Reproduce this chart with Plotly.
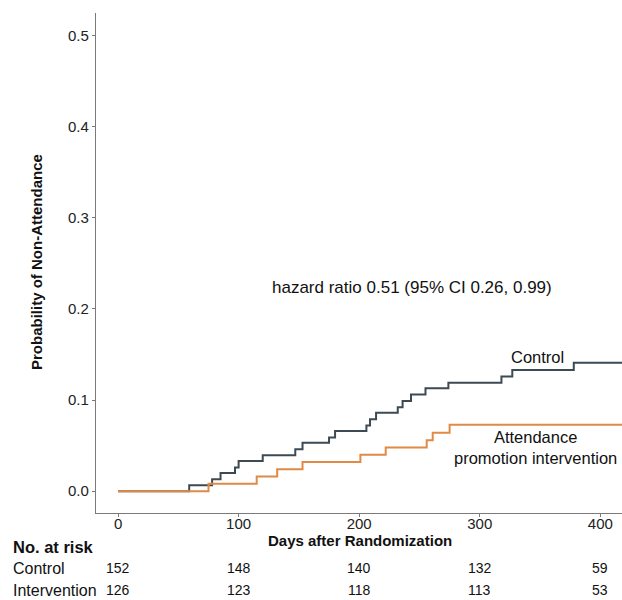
import plotly.graph_objects as go

# Kaplan-Meier style cumulative non-attendance
control_days = [0, 59, 78, 85, 97, 100, 120, 147, 153, 175, 180, 206, 209, 214, 232, 236, 243, 255, 274, 318, 327, 378, 420]
control_prob = [0.0, 0.0066, 0.013, 0.020, 0.026, 0.033, 0.0395, 0.046, 0.053, 0.059, 0.066, 0.072, 0.079, 0.086, 0.092, 0.099, 0.106, 0.113, 0.119, 0.126, 0.133, 0.141, 0.141]

interv_days = [0, 75, 115, 132, 153, 201, 222, 256, 261, 275, 420]
interv_prob = [0.0, 0.008, 0.016, 0.024, 0.032, 0.040, 0.048, 0.056, 0.064, 0.073, 0.073]

tick_days = [0, 100, 200, 300, 400]
risk_control = [152, 148, 140, 132, 59]
risk_interv = [126, 123, 118, 113, 53]

W, H = 622, 600
L, R, T, B = 96, 0, 13, 87
PW, PH = W - L - R, H - T - B

def px(X):
    return (X - L) / PW

def py(Y):
    return (H - B - Y) / PH

FONT = "Liberation Sans, Arial, sans-serif"
DARK = "#3d4a53"
ORANGE = "#e08a45"
AXC = "#7a7a7a"
TXT = "#111111"

fig = go.Figure()
fig.add_trace(go.Scatter(x=control_days, y=control_prob, mode="lines",
                         line=dict(shape="hv", color=DARK, width=2), showlegend=False,
                         hoverinfo="skip"))
fig.add_trace(go.Scatter(x=interv_days, y=interv_prob, mode="lines",
                         line=dict(shape="hv", color=ORANGE, width=2), showlegend=False,
                         hoverinfo="skip"))


def note(text, x, y, xref="paper", yref="paper", xanchor="center", size=16, angle=0):
    return dict(text=text, x=x, y=y, xref=xref, yref=yref, xanchor=xanchor, yanchor="middle",
                textangle=angle, showarrow=False, font=dict(size=size, color=TXT, family=FONT))


ann = [
    note("hazard ratio 0.51 (95% CI 0.26, 0.99)", 244, 0.224, "x", "y", size=17),
    note("Control", 348, 0.147, "x", "y", size=16.5),
    note("Attendance<br>promotion intervention", 346, 0.048, "x", "y", size=16.5),
    note("<b>Probability of Non-Attendance</b>", px(36), py(262), size=15, angle=-90),
    note("<b>Days after Randomization</b>", px(360), py(540), size=15),
    note("<b>No. at risk</b>", px(11), py(547), xanchor="left", size=16.5),
    note("Control", px(11), py(568), xanchor="left", size=16),
    note("Intervention", px(11), py(590), xanchor="left", size=16),
]
for d, c, i in zip(tick_days, risk_control, risk_interv):
    ann.append(note(str(c), d, py(568), "x", "paper", size=14))
    ann.append(note(str(i), d, py(590), "x", "paper", size=14))

fig.update_layout(
    width=W, height=H,
    margin=dict(l=L, r=R, t=T, b=B, pad=0),
    paper_bgcolor="white", plot_bgcolor="white",
    annotations=ann,
    xaxis=dict(range=[-18.3, 418], tickvals=tick_days, showgrid=False, zeroline=False,
               showline=True, linecolor=AXC, linewidth=1.3, ticks="outside", ticklen=3,
               tickcolor=AXC, tickwidth=1.2, ticklabelstandoff=-6,
               tickfont=dict(size=15, color="#222", family=FONT)),
    yaxis=dict(range=[-0.024, 0.525], tickvals=[0, 0.1, 0.2, 0.3, 0.4, 0.5],
               ticktext=["0.0", "0.1", "0.2", "0.3", "0.4", "0.5"], showgrid=False, zeroline=False,
               showline=True, linecolor=AXC, linewidth=1.3, ticks="outside", ticklen=3,
               tickcolor=AXC, tickwidth=1.2, tickfont=dict(size=15, color="#222", family=FONT)),
)

fig.write_html("out.html", config={"displayModeBar": False},
               post_script="document.body.style.margin='0';document.body.style.padding='0';")
